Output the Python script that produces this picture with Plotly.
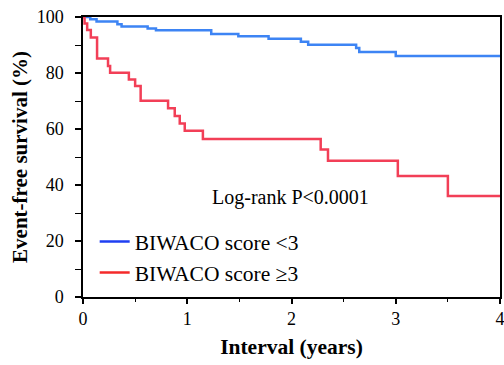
import plotly.graph_objects as go

# Data (Kaplan-Meier step curves)
low_t = [0, 0.07, 0.13, 0.33, 0.37, 0.62, 0.70, 1.23, 1.49, 1.78, 2.09, 2.16, 2.62, 2.65, 3.0, 4.0]
low_s = [100, 99.2, 98.4, 97.4, 96.6, 95.9, 95.3, 93.9, 93.1, 92.2, 91.2, 90.1, 88.9, 87.5, 86.1, 86.1]

high_t = [0, 0.015, 0.04, 0.075, 0.135, 0.24, 0.26, 0.44, 0.50, 0.553, 0.816, 0.88, 0.928,
          0.976, 1.15, 2.28, 2.35, 3.02, 3.50, 4.0]
high_s = [100, 97.7, 95.4, 92.7, 85.2, 82.5, 80.1, 77.7, 75.4, 70.1, 67.4, 64.6, 62.0,
          59.4, 56.4, 52.7, 48.7, 43.2, 36.1, 36.1]

series_names = ["BIWACO score <3", "BIWACO score ≥3"]
x_ticks = [0, 1, 2, 3, 4]
y_ticks = [0, 20, 40, 60, 80, 100]

FONT = "Liberation Serif, Times New Roman, serif"
BLUE = "#3d84f4"
RED = "#f23f57"
BLUE_LEG = "#1f3ff2"
RED_LEG = "#f42a2a"

fig = go.Figure()
fig.add_trace(go.Scatter(x=low_t, y=low_s, mode="lines", line=dict(shape="hv", color=BLUE, width=2.5),
                         showlegend=False))
fig.add_trace(go.Scatter(x=high_t, y=high_s, mode="lines", line=dict(shape="hv", color=RED, width=2.5),
                         showlegend=False))
# legend entries
fig.add_trace(go.Scatter(x=[None], y=[None], mode="lines", line=dict(color=BLUE_LEG, width=2.5),
                         name=series_names[0]))
fig.add_trace(go.Scatter(x=[None], y=[None], mode="lines", line=dict(color=RED_LEG, width=2.5),
                         name=series_names[1]))

fig.add_annotation(x=1.99, y=35.4, xref="x", yref="y", text="Log-rank P<0.0001", showarrow=False,
                   font=dict(family=FONT, size=20, color="black"), xanchor="center", yanchor="middle")

fig.update_layout(
    width=504, height=365,
    margin=dict(l=83, r=4, t=17, b=68),
    paper_bgcolor="white", plot_bgcolor="white",
    font=dict(family=FONT, size=20, color="black"),
    legend=dict(x=0.028, y=0.271, xanchor="left", yanchor="top", bgcolor="rgba(0,0,0,0)",
                font=dict(family=FONT, size=21.5, color="black"), tracegroupgap=0),
    xaxis=dict(range=[0, 4], tickvals=x_ticks, showline=True, linecolor="black", linewidth=1.5,
               mirror=True, ticks="outside", ticklen=5, tickwidth=1.5, tickcolor="black",
               minor=dict(dtick=0.5, ticks="outside", ticklen=3, tickwidth=1.2, tickcolor="black"),
               showgrid=False, zeroline=False, automargin=False, ticklabeloverflow="allow",
               title=dict(text="<b>Interval (years)</b>", font=dict(family=FONT, size=21.5), standoff=11),
               tickfont=dict(family=FONT, size=18)),
    yaxis=dict(range=[0, 100], tickvals=y_ticks, showline=True, linecolor="black", linewidth=1.5,
               mirror=True, ticks="outside", ticklen=6, tickwidth=1.5, tickcolor="black",
               minor=dict(dtick=10, ticks="outside", ticklen=6, tickwidth=1.2, tickcolor="black"),
               showgrid=False, zeroline=False, automargin=False, ticklabelstandoff=8,
               ticklabeloverflow="allow",
               title=dict(text="<b>Event-free survival (%)</b>", font=dict(family=FONT, size=21), standoff=3),
               tickfont=dict(family=FONT, size=18)),
)

# remove the default page margin so the 504x365 figure fills the window exactly
fig.write_html("out.html", config={"displayModeBar": False},
               post_script="document.body.style.margin='0';document.documentElement.style.overflow='hidden';")
